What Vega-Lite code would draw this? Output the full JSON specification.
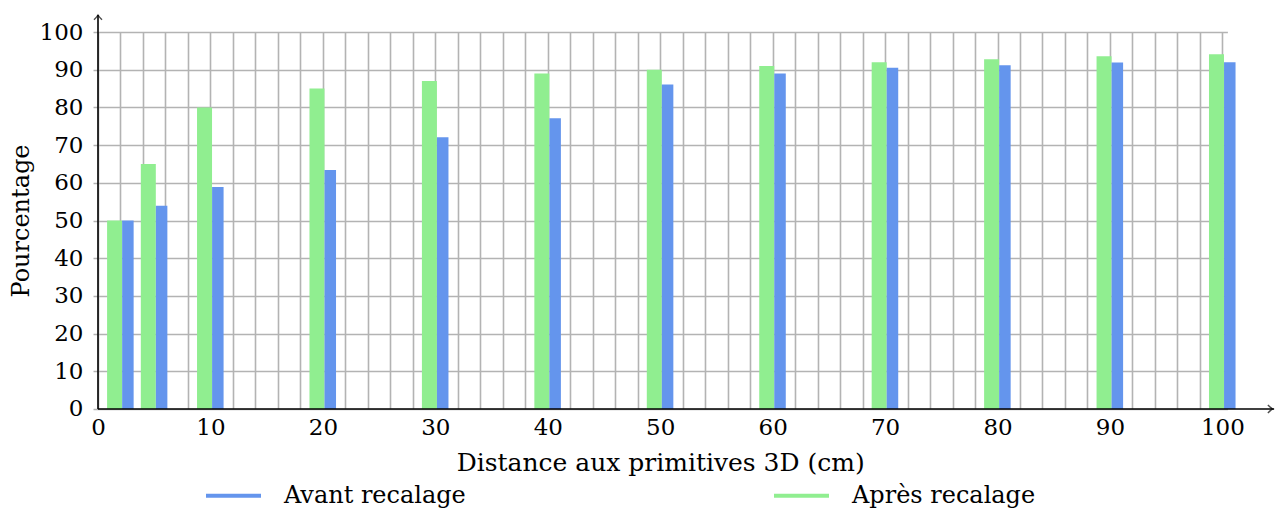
{
  "$schema": "https://vega.github.io/schema/vega-lite/v6.json",
  "width": 1134.4,
  "height": 377,
  "autosize": {"type": "none"},
  "padding": {"left": 93, "top": 32, "right": 52, "bottom": 100},
  "background": "white",
  "config": {
    "view": {"stroke": null},
    "font": "DejaVu Serif",
    "text": {"font": "DejaVu Serif"},
    "axis": {"labelFont": "DejaVu Serif", "titleFont": "DejaVu Serif", "labelColor": "black", "titleColor": "black", "titleFontWeight": "normal"},
    "legend": {"labelFont": "DejaVu Serif", "labelColor": "black"}
  },
  "data": {
    "values": [
      {"d": 2, "serie": "Après recalage", "v": 50},
      {"d": 5, "serie": "Après recalage", "v": 65},
      {"d": 10, "serie": "Après recalage", "v": 80},
      {"d": 20, "serie": "Après recalage", "v": 85},
      {"d": 30, "serie": "Après recalage", "v": 87},
      {"d": 40, "serie": "Après recalage", "v": 89},
      {"d": 50, "serie": "Après recalage", "v": 90},
      {"d": 60, "serie": "Après recalage", "v": 91},
      {"d": 70, "serie": "Après recalage", "v": 92},
      {"d": 80, "serie": "Après recalage", "v": 92.8},
      {"d": 90, "serie": "Après recalage", "v": 93.6},
      {"d": 100, "serie": "Après recalage", "v": 94.1},
      {"d": 2, "serie": "Avant recalage", "v": 50},
      {"d": 5, "serie": "Avant recalage", "v": 53.9},
      {"d": 10, "serie": "Avant recalage", "v": 58.9},
      {"d": 20, "serie": "Avant recalage", "v": 63.4},
      {"d": 30, "serie": "Avant recalage", "v": 72.1},
      {"d": 40, "serie": "Avant recalage", "v": 77.1},
      {"d": 50, "serie": "Avant recalage", "v": 86.1},
      {"d": 60, "serie": "Avant recalage", "v": 89},
      {"d": 70, "serie": "Avant recalage", "v": 90.5},
      {"d": 80, "serie": "Avant recalage", "v": 91.2},
      {"d": 90, "serie": "Avant recalage", "v": 91.9},
      {"d": 100, "serie": "Avant recalage", "v": 92}
    ]
  },
  "layer": [
    {
      "transform": [{"filter": "datum.serie === 'Après recalage'"}],
      "mark": {"type": "bar", "width": 15, "xOffset": -5.9, "clip": false},
      "encoding": {
        "x": {
          "field": "d", "type": "quantitative",
          "scale": {"domain": [0, 100], "nice": false, "zero": false},
          "axis": {
            "values": [0,2,4,6,8,10,12,14,16,18,20,22,24,26,28,30,32,34,36,38,40,42,44,46,48,50,52,54,56,58,60,62,64,66,68,70,72,74,76,78,80,82,84,86,88,90,92,94,96,98,100],
            "tickCount": 200,
            "format": "d",
            "labelExpr": "datum.value % 10 === 0 ? datum.label : ''",
            "labelOverlap": false,
            "grid": true, "gridColor": "#b3b3b3", "gridWidth": 1.6, "gridOpacity": 1,
            "ticks": false, "domain": false,
            "labelFont": "DejaVu Serif", "titleFont": "DejaVu Serif",
            "labelFontSize": 23, "labelPadding": 8,
            "title": "Distance aux primitives 3D (cm)", "titleFontSize": 25, "titlePadding": 11
          }
        },
        "y": {
          "field": "v", "type": "quantitative",
          "scale": {"domain": [0, 100], "nice": false},
          "axis": {
            "values": [0,10,20,30,40,50,60,70,80,90,100],
            "tickCount": 100,
            "format": "d",
            "labelOverlap": false,
            "grid": true, "gridColor": "#b3b3b3", "gridWidth": 1.6, "gridOpacity": 1,
            "ticks": false, "domain": false,
            "labelFont": "DejaVu Serif", "titleFont": "DejaVu Serif",
            "labelFontSize": 23, "labelPadding": 10,
            "title": "Pourcentage", "titleFontSize": 24, "titlePadding": 6
          }
        },
        "color": {
          "field": "serie", "type": "nominal",
          "scale": {"domain": ["Avant recalage", "Après recalage"], "range": ["#6495ED", "#90EE90"]},
          "legend": {
            "title": null, "orient": "none", "legendX": 111, "legendY": 434,
            "direction": "horizontal", "columns": 2, "columnPadding": 300,
            "symbolType": "stroke", "symbolSize": 3025, "symbolStrokeWidth": 4,
            "labelFont": "DejaVu Serif",
            "labelFontSize": 24, "labelOffset": 21, "padding": 0, "labelLimit": 400,
            "encode": {"symbols": {"update": {"stroke": {"scale": "color", "field": "value"}, "strokeWidth": {"value": 4}}}}
          }
        }
      }
    },
    {
      "transform": [{"filter": "datum.serie === 'Avant recalage'"}],
      "mark": {"type": "bar", "width": 11.5, "xOffset": 7.4, "clip": false},
      "encoding": {
        "x": {"field": "d", "type": "quantitative"},
        "y": {"field": "v", "type": "quantitative"},
        "color": {"field": "serie", "type": "nominal"}
      }
    },
    {
      "data": {"values": [{}]},
      "mark": {"type": "rule", "color": "black", "strokeWidth": 1.6, "clip": false},
      "encoding": {"x": {"datum": 0}, "y": {"datum": 0}, "y2": {"datum": 104.5}}
    },
    {
      "data": {"values": [{}]},
      "mark": {"type": "rule", "color": "black", "strokeWidth": 1.6, "clip": false},
      "encoding": {"y": {"datum": 0}, "x": {"datum": 0}, "x2": {"datum": 104.6}}
    },
    {
      "data": {"values": [{}]},
      "mark": {"type": "point", "filled": false, "stroke": "black", "strokeWidth": 1.4, "size": 64, "clip": false,
        "shape": "M -1 1 Q -0.3 0.3 0 -0.2 Q 0.3 0.3 1 1"},
      "encoding": {"x": {"datum": 0}, "y": {"datum": 104.3}}
    },
    {
      "data": {"values": [{}]},
      "mark": {"type": "point", "filled": false, "stroke": "black", "strokeWidth": 1.4, "size": 64, "clip": false,
        "shape": "M -1 -1 Q -0.3 -0.3 0.2 0 Q -0.3 0.3 -1 1"},
      "encoding": {"x": {"datum": 104.4}, "y": {"datum": 0}}
    }
  ]
}
